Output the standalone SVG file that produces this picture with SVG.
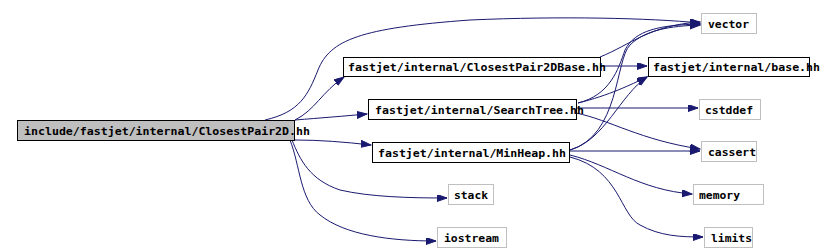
<svg xmlns="http://www.w3.org/2000/svg" width="825" height="252" viewBox="0 0 825 252">
<style>
.bg{fill:#ffffff}
.n rect{fill:#ffffff;stroke:#000000;stroke-width:1}
.n.root rect{fill:#bfbfbf}
.n.ext rect{stroke:#bfbfbf}
.n text{font-family:"DejaVu Sans Mono","Liberation Mono",monospace;font-weight:bold;font-size:10.5px;fill:#000000}
.e path{fill:none;stroke:#191970;stroke-width:1;marker-end:url(#arr)}
</style>
<defs>
<marker id="arr" markerUnits="userSpaceOnUse" markerWidth="11" markerHeight="8" refX="10" refY="3.5" orient="auto">
<path d="M0,0 L10,3.5 L0,7 z" fill="#191970" stroke="#191970"/>
</marker>
</defs>
<rect class="bg" x="0" y="0" width="825" height="252"/>
<g id="edges" class="e">
<path d="M265,120 C300,112 308,95 318,70 C330,40 360,28 470,20 C560,16 650,18 700,23"/>
<path d="M295,120 C315,110 322,92 344,77"/>
<path d="M295,120 C320,118 345,116 367,114"/>
<path d="M295,140 C320,140 345,142 371,145"/>
<path d="M292,140 C300,160 310,180 340,190 C370,197 410,198 447,198"/>
<path d="M290,140 C300,165 300,200 320,215 C345,235 390,241 436,241"/>
<path d="M600,57 C630,45 650,25 700,22"/>
<path d="M601,66 L647,66"/>
<path d="M578,103 C610,95 618,70 625,50 C635,30 660,25 700,24"/>
<path d="M578,103 C610,95 630,85 647,77"/>
<path d="M576,108 L698,108"/>
<path d="M576,113 C610,120 640,140 700,149"/>
<path d="M570,150 C620,135 615,60 630,45 C645,30 670,26 700,25"/>
<path d="M570,150 C605,140 620,95 647,77"/>
<path d="M570,151 L700,151"/>
<path d="M570,155 C610,165 640,190 692,194"/>
<path d="M570,157 C620,170 620,215 640,225 C660,236 680,237 703,237"/>
</g>
<g id="n_root" class="n root"><rect x="17.5" y="120.5" width="277" height="20"/><text x="24" y="134.5" textLength="286" lengthAdjust="spacingAndGlyphs">include/fastjet/internal/ClosestPair2D.hh</text></g>
<g id="n_cp2dbase" class="n"><rect x="343.5" y="57.5" width="257" height="19"/><text x="348" y="71" textLength="258" lengthAdjust="spacingAndGlyphs">fastjet/internal/ClosestPair2DBase.hh</text></g>
<g id="n_searchtree" class="n"><rect x="368.5" y="99.5" width="208" height="20"/><text x="375" y="113.5" textLength="209" lengthAdjust="spacingAndGlyphs">fastjet/internal/SearchTree.hh</text></g>
<g id="n_minheap" class="n"><rect x="372.5" y="142.5" width="197" height="20"/><text x="378" y="156.5" textLength="188" lengthAdjust="spacingAndGlyphs">fastjet/internal/MinHeap.hh</text></g>
<g id="n_vector" class="n ext"><rect x="701.5" y="13.5" width="55" height="20"/><text x="708" y="27.5" textLength="41" lengthAdjust="spacingAndGlyphs">vector</text></g>
<g id="n_base" class="n"><rect x="648.5" y="57.5" width="161" height="19"/><text x="653" y="71" textLength="167" lengthAdjust="spacingAndGlyphs">fastjet/internal/base.hh</text></g>
<g id="n_cstddef" class="n ext"><rect x="699.5" y="99.5" width="61" height="20"/><text x="705" y="113.5" textLength="48" lengthAdjust="spacingAndGlyphs">cstddef</text></g>
<g id="n_cassert" class="n ext"><rect x="701.5" y="141.5" width="55" height="20"/><text x="708" y="155.5" textLength="48" lengthAdjust="spacingAndGlyphs">cassert</text></g>
<g id="n_memory" class="n ext"><rect x="693.5" y="184.5" width="70" height="20"/><text x="699" y="198.5" textLength="41" lengthAdjust="spacingAndGlyphs">memory</text></g>
<g id="n_limits" class="n ext"><rect x="704.5" y="227.5" width="48" height="20"/><text x="711" y="241.5" textLength="41" lengthAdjust="spacingAndGlyphs">limits</text></g>
<g id="n_stack" class="n ext"><rect x="448.5" y="184.5" width="45" height="20"/><text x="454" y="198.5" textLength="34" lengthAdjust="spacingAndGlyphs">stack</text></g>
<g id="n_iostream" class="n ext"><rect x="437.5" y="227.5" width="69" height="20"/><text x="444" y="241.5" textLength="55" lengthAdjust="spacingAndGlyphs">iostream</text></g>
</svg>
